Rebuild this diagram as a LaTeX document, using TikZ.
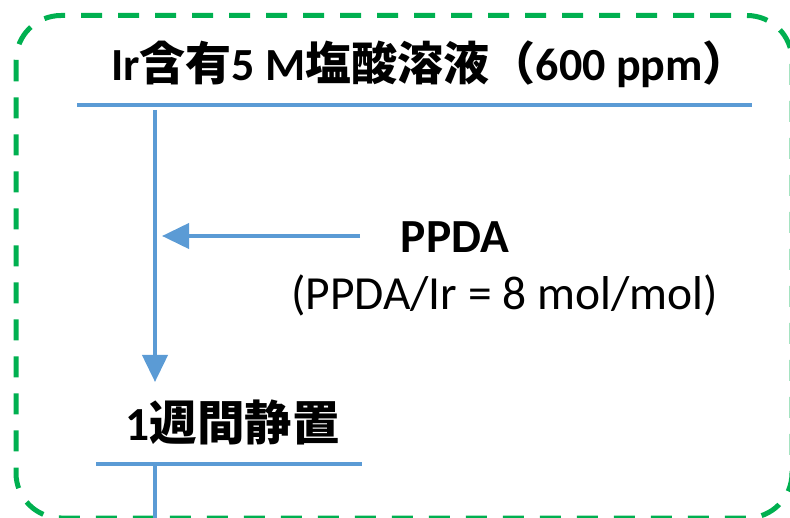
\documentclass[tikz,border=0pt]{standalone}
\usepackage{fontspec}
\setmainfont{Carlito}
\newfontfamily\cjk{Noto Sans CJK JP}
\usetikzlibrary{arrows.meta}
\definecolor{flowblue}{HTML}{5B9BD5}
\definecolor{framegreen}{HTML}{00B050}
\tikzset{
  flowline/.style={draw=flowblue, line width=4pt},
  flowarrow/.style={flowline, -{Triangle[width=25pt,length=27pt]}},
  frame/.style={draw=framegreen, line width=5pt, dash pattern=on 21pt off 16pt, rounded corners=45pt},
  label/.style={inner sep=0pt, anchor=base, font=\fontsize{47.5}{57}\selectfont},
  boldlabel/.style={label, font=\fontsize{47.5}{57}\selectfont\bfseries},
  titlelabel/.style={label, font=\fontsize{46}{55}\selectfont\bfseries},
}
\begin{document}
\begin{tikzpicture}[x=1pt, y=-1pt]
\useasboundingbox (0,0) rectangle (790,518);
% frame
\draw[frame] (16,15.5) rectangle (792,518);
% texts
\node[titlelabel] (title) at (430,81)
  {Ir{\cjk 含有}5 M{\cjk 塩酸溶液（}600 ppm{\cjk ）}};
\node[boldlabel] (ppda) at (455,253) {PPDA};
\node[label] (ratio) at (504.5,310) {(PPDA/Ir = 8 mol/mol)};
\node[boldlabel] (rest) at (232.5,440) {1{\cjk 週間静置}};
% lines
\coordinate (tl) at (77,105);
\coordinate (tr) at (752,105);
\coordinate (vtop) at (155,110);
\coordinate (vtip) at (155,382);
\coordinate (astart) at (360,236);
\coordinate (atip) at (162,236);
\coordinate (bl) at (96,464);
\coordinate (br) at (362,464);
\coordinate (btop) at (155,466);
\coordinate (bbot) at (155,520);
\draw[flowline] (tl) -- (tr);
\draw[flowarrow] (vtop) -- (vtip);
\draw[flowarrow] (astart) -- (atip);
\draw[flowline] (bl) -- (br);
\draw[flowline] (btop) -- (bbot);
\end{tikzpicture}
\end{document}
